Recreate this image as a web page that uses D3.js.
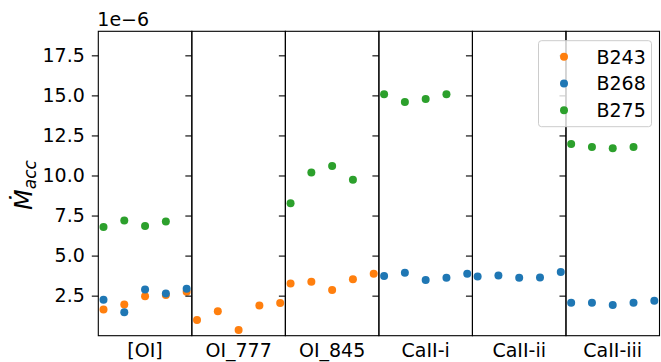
<!DOCTYPE html>
<html>
<head>
<meta charset="utf-8">
<script src="https://cdn.jsdelivr.net/npm/d3@7"></script>
<style>
  body { margin: 0; background: #fff; }
  svg { font-family: "DejaVu Sans", sans-serif; }
</style>
</head>
<body>
<div id="chart"></div>
<script>
// accretion rate per line, units of 1e-6, 5 epochs each (null = not measured)
const categories = ["[OI]", "OI_777", "OI_845", "CaII-i", "CaII-ii", "CaII-iii"];
const seriesNames = ["B243", "B268", "B275"];
const colors = ["#ff7f0e", "#1f77b4", "#2ca02c"];

const b243 = [
  [1.64, 1.95, 2.47, 2.54, 2.74],
  [0.98, 1.52, 0.35, 1.89, 2.04],
  [3.26, 3.37, 2.85, 3.53, 3.86],
  null, null, null
];
const b268 = [
  [2.24, 1.46, 2.89, 2.64, 2.93],
  null,
  null,
  [3.72, 3.93, 3.47, 3.62, 3.87],
  [3.70, 3.76, 3.61, 3.64, 3.97],
  [2.06, 2.06, 1.91, 2.06, 2.18]
];
const b275 = [
  [6.79, 7.19, 6.84, 7.13],
  null,
  [8.27, 10.18, 10.60, 9.73],
  [15.07, 14.59, 14.77, 15.07],
  null,
  [11.97, 11.78, 11.70, 11.78]
];
const yTicks = [2.5, 5.0, 7.5, 10.0, 12.5, 15.0, 17.5];

const W = 661, H = 362;
const mLeft = 98.3, mRight = 659.5, mTop = 31.3, mBottom = 335.7;
const panelW = (mRight - mLeft) / categories.length;
const fs = "19px";

const svg = d3.select("#chart").append("svg")
  .attr("width", W).attr("height", H);

const y = d3.scaleLinear().domain([0, 19]).range([mBottom, mTop]);
const x = d3.scaleLinear().domain([-0.25, 4.25]).range([0, panelW]);

const allSeries = [b243, b268, b275];

categories.forEach(function (cat, i) {
  const g = svg.append("g").attr("transform", "translate(" + (mLeft + i * panelW) + ",0)");

  // points, orange first then blue then green
  allSeries.forEach(function (s, k) {
    const vals = s[i];
    if (!vals) return;
    g.append("g").selectAll("circle")
      .data(vals).enter()
      .append("circle")
      .attr("cx", function (d, j) { return x(j); })
      .attr("cy", function (d) { return y(d); })
      .attr("r", 4)
      .style("fill", colors[k]);
  });

  // frame
  g.append("rect")
    .attr("x", 0).attr("y", mTop)
    .attr("width", panelW).attr("height", mBottom - mTop)
    .style("fill", "none").style("stroke", "#000").style("stroke-width", 1.1);

  // y axis: ticks on every panel, labels only on the first
  const ax = g.append("g")
    .call(d3.axisLeft(y).tickValues(yTicks).tickSize(6.5).tickPadding(7)
      .tickSizeOuter(0).tickFormat(i == 0 ? d3.format(".1f") : ""));
  ax.select(".domain").remove();
  ax.selectAll("line").style("stroke", "#000").style("stroke-width", 1.1);
  ax.selectAll("text").style("font-size", fs).style("fill", "#000")
    .style("font-family", "DejaVu Sans");

  // category label
  g.append("text")
    .attr("x", panelW / 2).attr("y", 356.5)
    .attr("text-anchor", "middle")
    .style("font-size", fs)
    .text(cat);
});

// offset text
svg.append("text")
  .attr("x", mLeft - 1).attr("y", 26)
  .style("font-size", fs)
  .text("1e\u22126");

// y label (reads bottom to top)
const yl = svg.append("text")
  .attr("transform", "translate(32,210) rotate(-90)")
  .style("font-size", "24px")
  .style("font-style", "italic");
yl.append("tspan").text("\u1E40");
yl.append("tspan").attr("dy", 4).style("font-size", "17px").text("acc");

// legend
const lg = svg.append("g");
lg.append("rect")
  .attr("x", 538.5).attr("y", 40.7)
  .attr("width", 113).attr("height", 86)
  .attr("rx", 3)
  .style("fill", "#fff").style("fill-opacity", 0.8)
  .style("stroke", "#ccc").style("stroke-width", 1);
seriesNames.forEach(function (name, k) {
  const ly = 56.7 + k * 26.8;
  lg.append("circle").attr("cx", 564).attr("cy", ly).attr("r", 4).style("fill", colors[k]);
  lg.append("text").attr("x", 596.5).attr("y", ly + 6.8)
    .style("font-size", fs).text(name);
});
</script>
</body>
</html>
